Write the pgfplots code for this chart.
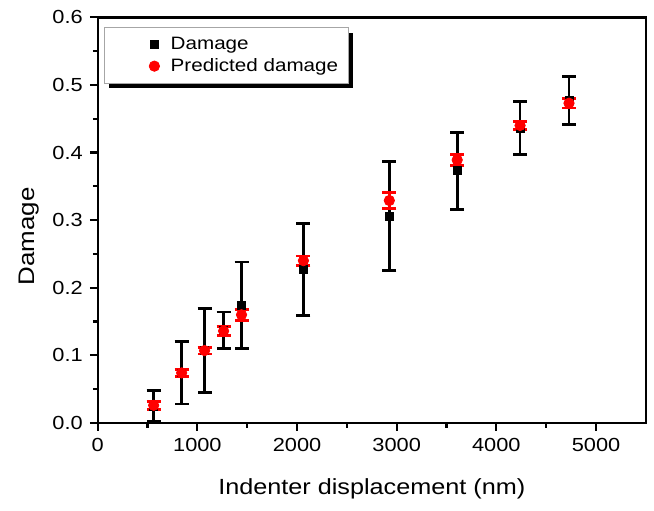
\documentclass[border=0pt]{standalone}
\usepackage{fontspec}
\setmainfont{Liberation Sans}[FakeStretch=1.15]
\usepackage{pgfplots}
\pgfplotsset{compat=1.18}
\usetikzlibrary{shadows}
\begin{document}
\begin{tikzpicture}
\begin{axis}[
    scale only axis,
    width=275pt, height=203.5pt,
    xmin=0, xmax=5500, ymin=0, ymax=0.6,
    xtick={0,1000,...,5000},
    ytick={0,0.1,...,0.6},
    minor x tick num=1, minor y tick num=1,
    tick pos=left,
    tick align=outside,
    major tick length=4pt, minor tick length=2.5pt,
    axis line style={line width=1.2pt},
    every tick/.style={black, line width=1.1pt},
    tick label style={font=\fontsize{9.5}{11}\selectfont},
    /pgf/number format/assume math mode=true,
    x tick label style={/pgf/number format/1000 sep={}},
    y tick label style={/pgf/number format/.cd, fixed, fixed zerofill, precision=1},
    xlabel={Indenter displacement (nm)},
    ylabel={Damage},
    xlabel style={font=\fontsize{11}{13}\selectfont, yshift=-7pt},
    ylabel style={font=\fontsize{11.3}{13}\selectfont, at={(ticklabel cs:0.46)}},
    legend cell align=left,
    legend style={at={(0.011,0.975)}, anchor=north west,
        draw=gray!70, line width=0.4pt, fill=white,
        font=\fontsize{9}{11}\selectfont,
        drop shadow={shadow xshift=2.5pt, shadow yshift=-2.5pt, fill=black, opacity=1},
        inner xsep=3pt, inner ysep=2.5pt, row sep=-1pt},
    legend image code/.code={\path (0pt,0pt) (28pt,0pt);
        \draw[#1] plot coordinates {(22pt,0pt)};},
]
% measured damage with scatter
\addplot[only marks, mark=square*, mark size=2pt, black,
    error bars/.cd, y dir=both, y explicit,
    error bar style={line width=1.4pt, black},
    error mark options={rotate=90, line width=1.4pt, mark size=3.5pt, black}]
  coordinates {
    (561,0.025)  +- (0,0.023)
    (842,0.074)  +- (0,0.046)
    (1072,0.107) +- (0,0.062)
    (1263,0.137) +- (0,0.027)
    (1443,0.174) +- (0,0.064)
    (2064,0.227) +- (0,0.068)
    (2926,0.306) +- (0,0.081)
    (3607,0.373) +- (0,0.057)
    (4238,0.436) +- (0,0.039)
    (4729,0.477) +- (0,0.036)
  };
% predicted damage
\addplot[only marks, mark=*, mark size=2.6pt, red,
    error bars/.cd, y dir=both, y explicit,
    error bar style={line width=1.4pt, red},
    error mark options={rotate=90, line width=1.4pt, mark size=3.5pt, red}]
  coordinates {
    (561,0.026)  +- (0,0.006)
    (842,0.074)  +- (0,0.005)
    (1072,0.107) +- (0,0.005)
    (1263,0.136) +- (0,0.007)
    (1443,0.160) +- (0,0.008)
    (2064,0.240) +- (0,0.007)
    (2926,0.329) +- (0,0.012)
    (3607,0.389) +- (0,0.008)
    (4238,0.440) +- (0,0.006)
    (4729,0.473) +- (0,0.007)
  };
\legend{Damage, Predicted damage}
\end{axis}
\path ([shift={(3.5pt,-2pt)}]current bounding box.south east)
      ([shift={(-6pt,2pt)}]current bounding box.north west);
\end{tikzpicture}
\end{document}
